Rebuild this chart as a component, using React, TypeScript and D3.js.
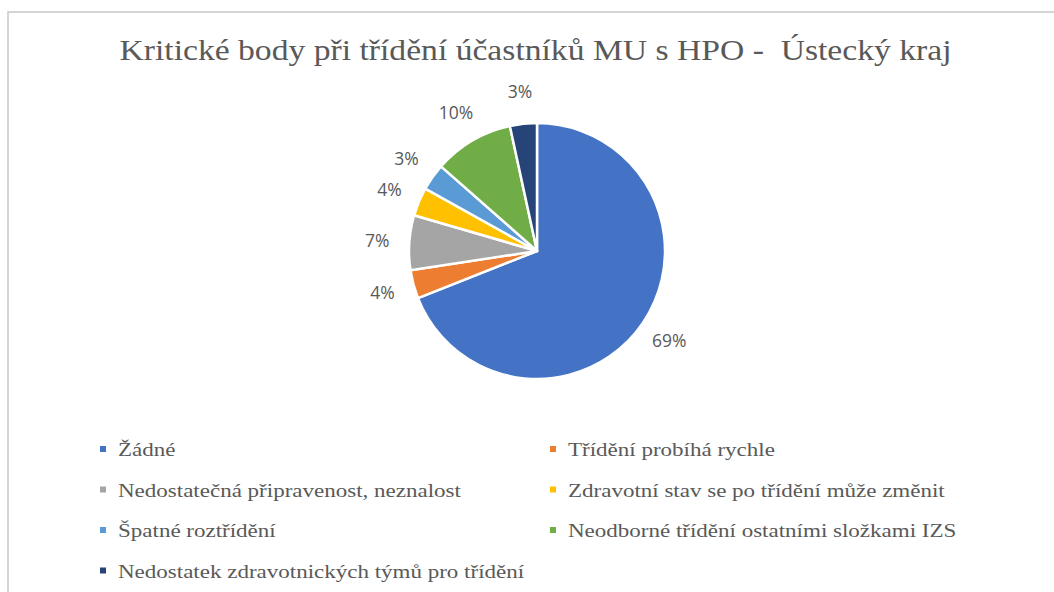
import React from "react";
import * as d3 from "d3";

const categories = [
  "Žádné",
  "Třídění probíhá rychle",
  "Nedostatečná připravenost, neznalost",
  "Zdravotní stav se po třídění může změnit",
  "Špatné roztřídění",
  "Neodborné třídění ostatními složkami IZS",
  "Nedostatek zdravotnických týmů pro třídění",
];
const values = [69.0, 3.6, 6.9, 3.6, 3.4, 10.1, 3.4];
const labels = ["69%", "4%", "7%", "4%", "3%", "10%", "3%"];
const colors = ["#4472C4", "#ED7D31", "#A5A5A5", "#FFC000", "#5B9BD5", "#70AD47", "#264478"];
const title = "Kritické body při třídění účastníků MU s HPO -  Ústecký kraj";

const SERIF = "'Liberation Serif', 'Times New Roman', serif";
const SANS = "'Open Sans', 'Noto Sans', sans-serif";

export default function App() {
  const W = 1054, H = 592;
  const cx = 537, cy = 251, r = 128;
  const pie = d3.pie<number>().sort(null).value((d) => d);
  const arcs = pie(values);
  const arc = d3.arc<d3.PieArcDatum<number>>().innerRadius(0).outerRadius(r);
  const labelArc = d3.arc<d3.PieArcDatum<number>>().innerRadius(r + 32).outerRadius(r + 32);

  const legendCols = [103, 553];
  const legendRow0 = 449, legendDy = 40.5;
  const sx = 1.18;

  return (
    <svg width={W} height={H} style={{ position: "absolute", left: 0, top: 0, background: "#fff" }}>
      <rect x={8} y={12} width={W + 10} height={H + 10} fill="#fff" stroke="#c8c8c8" strokeWidth={1.5} />
      <text
        transform={`translate(535.5,59.5) scale(1.16,1)`}
        textAnchor="middle"
        style={{ fontFamily: SERIF, whiteSpace: "pre" }}
        fontSize={29}
        fill="#595959"
      >
        {title}
      </text>
      <g transform={`translate(${cx},${cy})`}>
        {arcs.map((a, i) => (
          <path key={i} d={arc(a) || ""} fill={colors[i]} stroke="#fff" strokeWidth={2.5} strokeLinejoin="round" />
        ))}
        {arcs.map((a, i) => {
          const [x, y] = labelArc.centroid(a);
          return (
            <text key={i} x={x} y={y} dy="0.36em" textAnchor="middle" style={{ fontFamily: SANS }} fontSize={17.5} fill="#595959">
              {labels[i]}
            </text>
          );
        })}
      </g>
      {categories.map((c, i) => {
        const col = i % 2;
        const row = Math.floor(i / 2);
        const x = legendCols[col];
        const y = legendRow0 + row * legendDy;
        return (
          <g key={i}>
            <rect x={x - 3} y={y - 3} width={6} height={6} fill={colors[i]} />
            <text
              transform={`translate(${x + 15},${y + 7}) scale(${sx},1)`}
              style={{ fontFamily: SERIF }}
              fontSize={19.5}
              fill="#595959"
            >
              {c}
            </text>
          </g>
        );
      })}
    </svg>
  );
}
